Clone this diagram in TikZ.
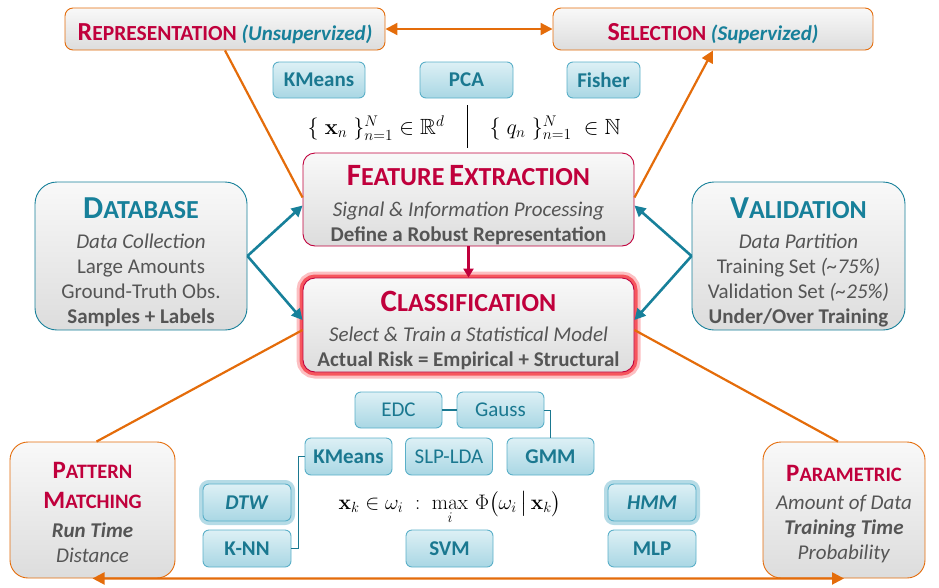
\RequirePackage{fix-cm}
\documentclass[tikz,border=0pt]{standalone}
\usepackage{amsmath,amssymb}
\usepackage[no-math]{fontspec}
\setmainfont{Carlito}
\usetikzlibrary{arrows.meta}

\definecolor{crim}{HTML}{C0003C}
\definecolor{petrol}{HTML}{17809A}
\definecolor{orng}{HTML}{E46C0A}
\definecolor{txtgray}{HTML}{555555}
\definecolor{skyline}{HTML}{5AAFC8}
\definecolor{skytop}{HTML}{DDF0F5}
\definecolor{skybot}{HTML}{A9D7E4}
\definecolor{skytext}{HTML}{1A7890}

% fake small caps: size, letters
\newcommand{\sml}[2]{{\fontsize{#1}{#1}\selectfont #2}}
% pushes a title line down
\newcommand{\lift}[1]{\rule{0pt}{#1}}

\begin{document}
\begin{tikzpicture}[x=1pt, y=-1pt,
greybox/.style={draw, line width=0.9pt, rounded corners=12pt, top color=gray!5, bottom color=gray!27, text=txtgray, align=center, inner sep=0pt, font=\fontsize{21}{25}\selectfont},
algbox/.style={draw=skyline, line width=0.9pt, rounded corners=6pt, top color=skytop, bottom color=skybot, text=skytext, minimum width=87pt, minimum height=36pt, inner sep=0pt, font=\fontsize{21}{24}\selectfont},
glowred/.style={preaction={draw=red!80!crim, line width=13pt, opacity=0.25}, preaction={draw=red!80!crim, line width=7pt, opacity=0.55}},
glowteal/.style={preaction={draw=skyline, line width=8pt, opacity=0.45}},
tealarrow/.style={draw=petrol, line width=2.6pt, -{Triangle[length=11pt,width=11pt]}},
orarrow/.style={draw=orng, line width=2.2pt, -{Triangle[length=12pt,width=12pt]}},
orboth/.style={draw=orng, line width=2.2pt, {Triangle[length=12pt,width=12pt]}-{Triangle[length=12pt,width=12pt]}},
link/.style={draw=skytext, line width=1pt}]
\useasboundingbox (0,0) rectangle (939,587);

% top row
\node (rep) at (225,29) [greybox, draw=orng, rounded corners=8pt, minimum width=320pt, minimum height=42pt] {\lift{26pt}\textbf{\color{crim}\sml{26}{R}\sml{21.5}{EPRESENTATION}} \textbf{\textit{\color{petrol}(Unsupervized)}}};
\node (sel) at (713,29) [greybox, draw=orng, rounded corners=8pt, minimum width=320pt, minimum height=42pt] {\lift{26pt}\textbf{\color{crim}\sml{26}{S}\sml{21.5}{ELECTION}} \textbf{\textit{\color{petrol}(Supervized)}}};
\node (km1) at (319,80) [algbox, minimum width=92pt] {\textbf{KMeans}};
\node (pca) at (466.5,80) [algbox, minimum width=93pt] {\textbf{PCA}};
\node (fis) at (603.5,80) [algbox, minimum width=73pt] {\textbf{Fisher}};

% feature sets
\node (fx) at (376,128) [font=\fontsize{22}{26}\selectfont] {$\{\;\mathbf{x}_n\;\}_{n=1}^{N}\in\mathbb{R}^{d}$};
\node (fq) at (555,128) [font=\fontsize{22}{26}\selectfont] {$\{\;q_n\;\}_{n=1}^{N}\;\in\mathbb{N}$};
\coordinate (divtop) at (467,105);
\coordinate (divbot) at (467,148);
\draw[line width=1pt] (divtop) to (divbot);

% centre
\node (fe) at (468.5,199.5) [greybox, draw=crim, minimum width=331pt, minimum height=93pt] {\lift{31pt}\textbf{\color{crim}\sml{31}{F}\sml{26}{EATURE} \sml{31}{E}\sml{26}{XTRACTION}}\\[6pt] \textit{Signal \& Information Processing}\\ \textbf{Define a Robust Representation}};
\node (cl) at (468.5,325) [greybox, glowred, draw=crim, minimum width=331pt, minimum height=94pt] {\lift{31pt}\textbf{\color{crim}\sml{31}{C}\sml{26}{LASSIFICATION}}\\[5pt] \textit{Select \& Train a Statistical Model}\\ \textbf{Actual Risk = Empirical + Structural}};

% sides
\node (db) at (141,256) [greybox, draw=petrol, rounded corners=22pt, minimum width=212pt, minimum height=148pt] {\lift{33pt}\textbf{\color{petrol}\sml{32}{D}\sml{26}{ATABASE}}\\[5pt] \textit{Data Collection}\\ Large Amounts\\ Ground-Truth Obs.\\ \textbf{Samples + Labels}};
\node (va) at (798.5,256) [greybox, draw=petrol, rounded corners=22pt, minimum width=213pt, minimum height=148pt] {\lift{33pt}\textbf{\color{petrol}\sml{32}{V}\sml{26}{ALIDATION}}\\[5pt] \textit{Data Partition}\\ Training Set \textit{(\textasciitilde75\%)}\\ Validation Set \textit{(\textasciitilde25\%)}\\ \textbf{Under/Over Training}};

% bottom corners
\node (pm) at (92.5,510) [greybox, draw=orng, rounded corners=18pt, minimum width=165pt, minimum height=136pt] {\lift{21pt}\textbf{\color{crim}\sml{25}{P}\sml{20.5}{ATTERN}}\\[5pt] \textbf{\color{crim}\sml{25}{M}\sml{20.5}{ATCHING}}\\[4pt] \textbf{\textit{Run Time}}\\ \textit{Distance}};
\node (pa) at (844,510) [greybox, draw=orng, rounded corners=18pt, minimum width=162pt, minimum height=136pt] {\lift{25pt}\textbf{\color{crim}\sml{25}{P}\sml{20.5}{ARAMETRIC}}\\[3pt] \textit{Amount of Data}\\ \textbf{\textit{Training Time}}\\ \textit{Probability}};

% classifiers
\node (edc) at (398.5,410) [algbox] {EDC};
\node (gau) at (500.5,410) [algbox] {Gauss};
\node (km2) at (348.5,456.5) [algbox, minimum height=37pt] {\textbf{KMeans}};
\node (slp) at (449,456.5) [algbox, minimum height=37pt] {SLP-LDA};
\node (gmm) at (550.5,456.5) [algbox, minimum height=37pt] {\textbf{GMM}};
\node (dtw) at (247,502.5) [algbox, glowteal, minimum width=88pt, minimum height=37pt] {\textbf{\textit{DTW}}};
\node (knn) at (247,548.5) [algbox, minimum width=88pt, minimum height=37pt] {\textbf{K-NN}};
\node (svm) at (449.5,548.5) [algbox, minimum height=37pt] {\textbf{SVM}};
\node (hmm) at (652,502.5) [algbox, glowteal, minimum width=88pt, minimum height=37pt] {\textbf{\textit{HMM}}};
\node (mlp) at (652,548.5) [algbox, minimum width=88pt, minimum height=37pt] {\textbf{MLP}};
\node (bayes) at (450,509) [anchor=base, font=\fontsize{21}{25}\selectfont] {$\mathbf{x}_k\in\omega_i\;:\;\max\limits_{i}\,\Phi\bigl(\omega_i\,\big|\,\mathbf{x}_k\bigr)$};

\draw[link, line width=2pt] (edc) to (gau);
\draw[link] (gau.east) -| (gmm.north);
\draw[link] (knn.east) -- ++(7,0) |- (km2.west);

% arrows
\draw[orboth] (rep) to (sel);
\draw[orarrow]
([yshift=2pt]fe.west) to (rep.south)
([yshift=2pt]fe.east) to (sel.south);
\draw[tealarrow] (db.east) to ([yshift=-6pt]fe.west);
\draw[tealarrow] (db.east) to ([yshift=5pt]cl.west);
\draw[tealarrow] (va.west) to ([yshift=-6pt]fe.east);
\draw[tealarrow] (va.west) to ([yshift=5pt]cl.east);
\draw[draw=crim, line width=2.2pt, -{Triangle[length=9pt,width=10pt]}] (fe) to (cl);
\draw[orboth]
([yshift=-5pt]cl.west) to ([xshift=4pt]pm.north)
([yshift=-5pt]cl.east) to ([xshift=-6pt]pa.north)
(pm.south) to (pa.south);
\end{tikzpicture}
\end{document}
